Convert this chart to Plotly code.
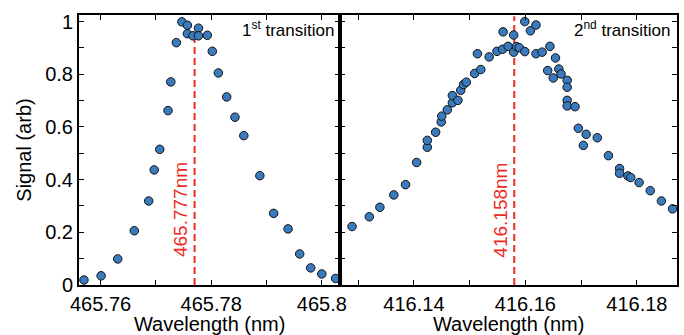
import plotly.graph_objects as go

# First transition scan
wl1 = [465.7570, 465.7601, 465.7631, 465.7661, 465.7687, 465.7697, 465.7707,
       465.7722, 465.7727, 465.7737, 465.7747, 465.7757, 465.7757, 465.7767,
       465.7777, 465.7777, 465.7793, 465.7802, 465.7813, 465.7828, 465.7843,
       465.7859, 465.7888, 465.7913, 465.7939, 465.7960, 465.7980, 465.8000,
       465.8025]
sig1 = [0.019, 0.035, 0.099, 0.206, 0.319, 0.437, 0.515,
        0.662, 0.771, 0.920, 0.999, 0.986, 0.954, 0.946,
        0.975, 0.946, 0.948, 0.887, 0.805, 0.714, 0.637,
        0.567, 0.415, 0.272, 0.213, 0.118, 0.065, 0.042,
        0.025]

# Second transition scan
wl2 = [416.1289, 416.1320, 416.1339, 416.1364, 416.1385, 416.1405, 416.1424,
       416.1424, 416.1439, 416.1449, 416.1450, 416.1460, 416.1469, 416.1469,
       416.1479, 416.1484, 416.1489, 416.1494, 416.1509, 416.1520, 416.1514,
       416.1535, 416.1549, 416.1559, 416.1560, 416.1569, 416.1579, 416.1579,
       416.1584, 416.1589, 416.1599, 416.1599, 416.1609, 416.1619, 416.1619,
       416.1630, 416.1644, 416.1640, 416.1650, 416.1654, 416.1660, 416.1664,
       416.1675, 416.1675, 416.1675, 416.1675, 416.1689, 416.1695, 416.1704,
       416.1709, 416.1729, 416.1749, 416.1769, 416.1769, 416.1784, 416.1789,
       416.1804, 416.1824, 416.1844, 416.1864]
sig2 = [0.222, 0.259, 0.295, 0.342, 0.381, 0.465, 0.523,
        0.549, 0.580, 0.619, 0.641, 0.665, 0.692, 0.719,
        0.701, 0.739, 0.761, 0.770, 0.803, 0.818, 0.878,
        0.866, 0.887, 0.895, 0.961, 0.906, 0.949, 0.884,
        0.905, 0.901, 1.000, 0.886, 0.965, 0.987, 0.878,
        0.884, 0.906, 0.814, 0.786, 0.862, 0.820, 0.801,
        0.777, 0.751, 0.701, 0.680, 0.677, 0.595, 0.530,
        0.572, 0.559, 0.491, 0.442, 0.424, 0.414, 0.408,
        0.389, 0.358, 0.319, 0.289]

centers = [465.777, 416.158]
center_labels = ["465.777nm", "416.158nm"]
center_tops = [0.96, 1.02]
panel_titles = ["1<sup>st</sup> transition", "2<sup>nd</sup> transition"]

FONT = "Liberation Sans, Arial, Helvetica, sans-serif"
MARKER_BLUE = "#3a7bbf"
RED = "#ee2a24"

fig = go.Figure()

for i, (wl, sig) in enumerate([(wl1, sig1), (wl2, sig2)]):
    xa = "x" if i == 0 else "x2"
    ya = "y" if i == 0 else "y2"
    # centre-wavelength marker line
    fig.add_trace(go.Scatter(
        x=[centers[i], centers[i]], y=[0, center_tops[i]],
        mode="lines", line=dict(color=RED, width=2, dash="7px,4px"),
        xaxis=xa, yaxis=ya, showlegend=False, hoverinfo="skip"))
    fig.add_trace(go.Scatter(
        x=wl, y=sig, mode="markers",
        marker=dict(size=8.5, color=MARKER_BLUE,
                    line=dict(color="#111111", width=1)),
        xaxis=xa, yaxis=ya, showlegend=False))

axis_common = dict(
    showline=True, linecolor="black", linewidth=2, mirror="allticks",
    ticks="inside", ticklen=5, tickwidth=1.2, tickcolor="black",
    showgrid=False, zeroline=False,
    tickfont=dict(family=FONT, size=20, color="black"),
)

x_minor = dict(ticks="inside", dtick=0.01, ticklen=5, tickwidth=1.2, tickcolor="black")
y_minor = dict(ticks="inside", dtick=0.1, ticklen=5, tickwidth=1.2, tickcolor="black")

split = 0.437

fig.update_layout(
    width=684, height=335,
    margin=dict(l=79, r=1, t=15, b=50),
    paper_bgcolor="white", plot_bgcolor="white",
    font=dict(family=FONT, color="black"),
    xaxis=dict(axis_common, domain=[0, split], range=[465.7561, 465.80335],
               dtick=0.02, tick0=465.76, minor=x_minor,
               title=dict(text="Wavelength (nm)", standoff=4,
                          font=dict(family=FONT, size=20))),
    xaxis2=dict(axis_common, domain=[split, 1], range=[416.1268, 416.1872],
                dtick=0.02, tick0=416.14, minor=x_minor, anchor="y2",
                title=dict(text="Wavelength (nm)", standoff=4,
                           font=dict(family=FONT, size=20))),
    yaxis=dict(axis_common, range=[0, 1.025], dtick=0.2, minor=y_minor,
               title=dict(text="Signal (arb)", standoff=8,
                          font=dict(family=FONT, size=20))),
    yaxis2=dict(axis_common, range=[0, 1.025], dtick=0.2, minor=y_minor,
                anchor="x2", showticklabels=False),
)

# panel labels and centre-wavelength labels
for i in range(2):
    xr = "x domain" if i == 0 else "x2 domain"
    yr = "y domain" if i == 0 else "y2 domain"
    fig.add_annotation(
        x=0.985 if i == 0 else 0.985, y=0.995, xref=xr, yref=yr,
        xanchor="right", yanchor="top", showarrow=False,
        text=panel_titles[i], font=dict(family=FONT, size=17, color="black"))
    fig.add_annotation(
        x=centers[i], y=0.285, xref="x" if i == 0 else "x2",
        yref="y" if i == 0 else "y2",
        xanchor="right", yanchor="middle", xshift=-1, showarrow=False,
        textangle=-90, text=center_labels[i],
        font=dict(family=FONT, size=19, color=RED))

fig.write_html("out.html")
